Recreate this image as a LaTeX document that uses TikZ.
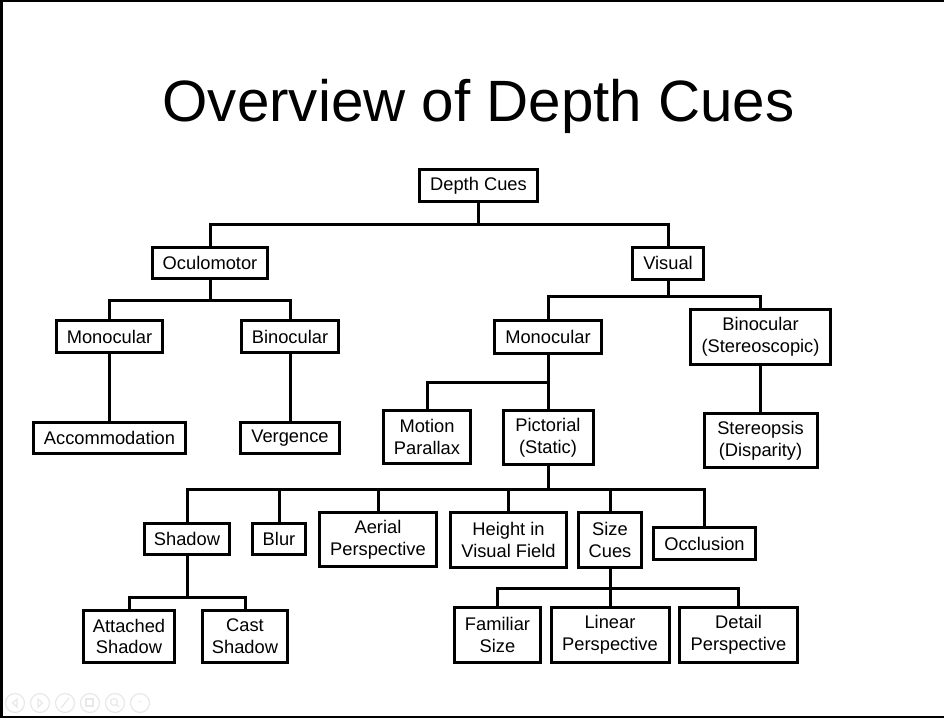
\documentclass[tikz,border=0pt]{standalone}
\usepackage{fontspec}
\setmainfont{Liberation Sans}
\begin{document}
\begin{tikzpicture}[x=1pt,y=-1pt,
  box/.style={draw=black,line width=3pt,inner sep=0pt,align=center,
    font=\fontsize{18.3}{21.8}\selectfont},
  conn/.style={draw=black,line width=3pt},
  navbtn/.style={draw=black!9,line width=1.2pt},
  frame/.style={fill=black}]
\useasboundingbox (0,0) rectangle (944,718);
\fill[white] (0,0) rectangle (944,718);
% slide frame
\fill[frame] (0,0) rectangle (944,2);
\fill[frame] (0,0) rectangle (3,718);
\fill[frame] (0,715.5) rectangle (944,718);
% faint slide controls
\foreach \i/\cx in {1/15,2/40,3/65,4/90,5/115,6/140}{
  \draw[navbtn] (\cx,703) circle (9.5);
}
\draw[navbtn] (17,699) -- (12.5,703) -- (17,707) -- cycle;
\draw[navbtn] (38,699) -- (42.5,703) -- (38,707) -- cycle;
\draw[navbtn] (61,708) -- (69,698);
\draw[navbtn] (86,699) rectangle (93,706);
\draw[navbtn] (114,702) circle (3.5) (116.5,704.5) -- (119,707);
\node[text=black!12,font=\fontsize{4}{4}\selectfont] (more) at (140,703) {•••};
% title
\node[anchor=base,font=\fontsize{58.3}{60}\selectfont,inner sep=0pt] (title) at (478.5,121) {Overview of Depth Cues};
% nodes
\node[box,minimum width=118pt,minimum height=32pt] (dc) at (478.5,185.5) {Depth Cues};
\node[box,minimum width=115pt,minimum height=31pt] (ocu) at (210,263) {Oculomotor};
\node[box,minimum width=71pt,minimum height=32pt] (vis) at (668,263) {Visual};
\node[box,minimum width=106pt,minimum height=32pt] (mon1) at (109.5,336.5) {Monocular};
\node[box,minimum width=97pt,minimum height=32pt] (bin1) at (290,336.5) {Binocular};
\node[box,minimum width=107pt,minimum height=33pt] (mon2) at (548,337) {Monocular};
\node[box,minimum width=140pt,minimum height=55pt] (bin2) at (760.5,337) {Binocular\\(Stereoscopic)};
\node[box,minimum width=152pt,minimum height=31pt] (acc) at (109.5,438) {Accommodation};
\node[box,minimum width=99pt,minimum height=31pt] (ver) at (290,438) {Vergence};
\node[box,minimum width=87pt,minimum height=53pt] (mot) at (427,437) {Motion\\Parallax};
\node[box,minimum width=90pt,minimum height=54pt] (pic) at (548,437.5) {Pictorial\\(Static)};
\node[box,minimum width=113pt,minimum height=54pt] (ste) at (760.5,440.5) {Stereopsis\\(Disparity)};
\node[box,minimum width=85pt,minimum height=31pt] (sha) at (187,539) {Shadow};
\node[box,minimum width=53pt,minimum height=31pt] (blu) at (279,539) {Blur};
\node[box,minimum width=117pt,minimum height=54pt] (aer) at (378,539.5) {Aerial\\Perspective};
\node[box,minimum width=116pt,minimum height=55pt] (hei) at (508.5,540) {Height in\\Visual Field};
\node[box,minimum width=63pt,minimum height=55pt] (siz) at (610,540) {Size\\Cues};
\node[box,minimum width=102pt,minimum height=32pt] (occ) at (704.5,543.5) {Occlusion};
\node[box,minimum width=91pt,minimum height=52pt] (att) at (129,636.5) {Attached\\Shadow};
\node[box,minimum width=85pt,minimum height=52pt] (cas) at (245,636.5) {Cast\\Shadow};
\node[box,minimum width=86pt,minimum height=55pt] (fam) at (497.5,635) {Familiar\\Size};
\node[box,minimum width=118pt,minimum height=55pt] (lin) at (610,635) {Linear\\Perspective};
\node[box,minimum width=118pt,minimum height=55pt] (det) at (738.5,635) {Detail\\Perspective};
% connectors
\foreach \c in {ocu,vis} \draw[conn] (dc.south) -- ++(0,21.5) -| (\c.north);
\foreach \c in {mon1,bin1} \draw[conn] (ocu.south) -- ++(0,20.5) -| (\c.north);
\foreach \c in {mon2,bin2} \draw[conn] (vis.south) -- ++(0,15.5) -| (\c.north);
\draw[conn] (mon1.south) -- (acc.north);
\draw[conn] (bin1.south) -- (ver.north);
\draw[conn] (mon2.south) -- (pic.north);
\draw[conn] (mon2.south) -- ++(0,27) -| (mot.north);
\draw[conn] (bin2.south) -- (ste.north);
\foreach \c in {sha,blu,aer,hei,siz,occ} \draw[conn] (pic.south) -- ++(0,23.5) -| (\c.north);
\foreach \c in {att,cas} \draw[conn] (sha.south) -- ++(0,41.5) -| (\c.north);
\foreach \c in {fam,lin,det} \draw[conn] (siz.south) -- ++(0,19.5) -| (\c.north);
\end{tikzpicture}
\end{document}
